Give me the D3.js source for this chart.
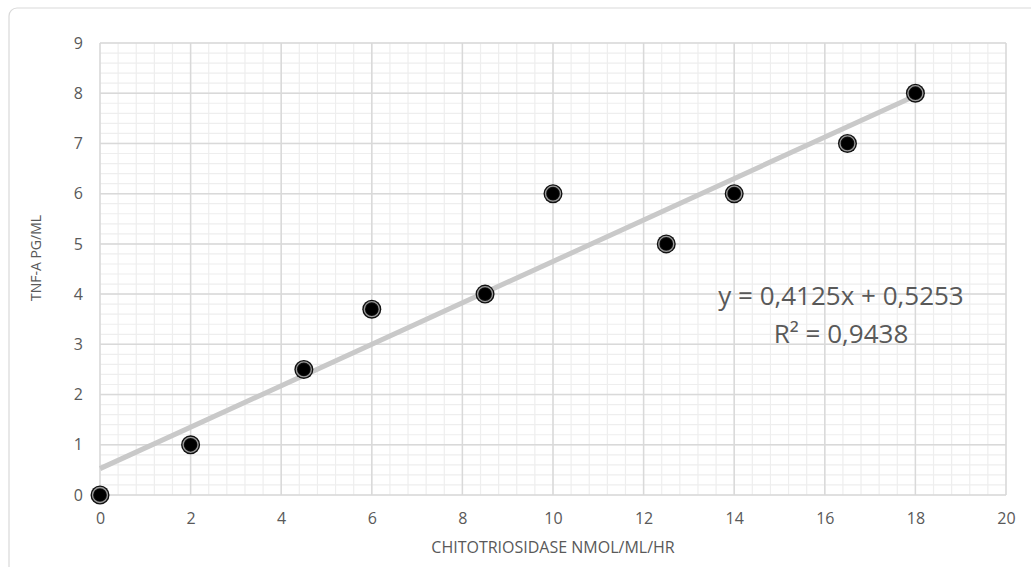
<!DOCTYPE html>
<html>
<head>
<meta charset="utf-8">
<script src="https://d3js.org/d3.v7.min.js"></script>
<style>
  body { margin: 0; background: #fff; }
  text { font-family: "Open Sans", "Liberation Sans", sans-serif; fill: #595959; }
</style>
</head>
<body>
<svg id="chart" width="1031" height="567"></svg>
<script>
// data
var chitoValues = [0, 2, 4.5, 6, 8.5, 10, 12.5, 14, 16.5, 18];
var tnfValues   = [0, 1, 2.5, 3.7, 4, 6, 5, 6, 7, 8];
var xTicks = [0, 2, 4, 6, 8, 10, 12, 14, 16, 18, 20];
var yTicks = [0, 1, 2, 3, 4, 5, 6, 7, 8, 9];
var trendSlope = 0.4125;
var trendIntercept = 0.5253;
var equationLines = ["y = 0,4125x + 0,5253", "R² = 0,9438"];

var svg = d3.select("#chart");

// chart frame
svg.append("rect")
    .attr("x", 9).attr("y", 8)
    .attr("width", 1030).attr("height", 580)
    .attr("rx", 8)
    .attr("fill", "#fff")
    .attr("stroke", "#d9d9d9")
    .attr("stroke-width", 1.2);

var x = d3.scaleLinear().domain([0, 20]).range([100, 1006]);
var y = d3.scaleLinear().domain([0, 9]).range([495, 43]);

// minor grid
var grid = svg.append("g");
grid.selectAll(".vminor")
    .data(d3.range(0, 20.001, 0.4))
    .enter().append("line")
        .attr("x1", function(d) { return x(d); })
        .attr("x2", function(d) { return x(d); })
        .attr("y1", y(0)).attr("y2", y(9))
        .attr("stroke", "#eeeeee").attr("stroke-width", 1.2);
grid.selectAll(".hminor")
    .data(d3.range(0, 9.001, 0.2))
    .enter().append("line")
        .attr("y1", function(d) { return y(d); })
        .attr("y2", function(d) { return y(d); })
        .attr("x1", x(0)).attr("x2", x(20))
        .attr("stroke", "#eeeeee").attr("stroke-width", 1.2);

// major grid
grid.selectAll(".vmajor")
    .data(xTicks)
    .enter().append("line")
        .attr("x1", function(d) { return x(d); })
        .attr("x2", function(d) { return x(d); })
        .attr("y1", y(0)).attr("y2", y(9))
        .attr("stroke", "#d9d9d9").attr("stroke-width", 1.5);
grid.selectAll(".hmajor")
    .data(yTicks)
    .enter().append("line")
        .attr("y1", function(d) { return y(d); })
        .attr("y2", function(d) { return y(d); })
        .attr("x1", x(0)).attr("x2", x(20))
        .attr("stroke", "#d9d9d9").attr("stroke-width", 1.5);

// axes (labels only)
var xAxis = svg.append("g")
    .attr("transform", "translate(0," + (y(0) + 13) + ")")
    .call(d3.axisBottom(x).tickValues(xTicks).tickSize(0).tickPadding(5));
xAxis.select(".domain").remove();
xAxis.selectAll("text")
    .style("font-size", "16px")
    .style("font-family", "'Open Sans', 'Liberation Sans', sans-serif")
    .attr("fill", "#595959");

var yAxis = svg.append("g")
    .attr("transform", "translate(" + (x(0) - 17) + ",0)")
    .call(d3.axisLeft(y).tickValues(yTicks).tickSize(0).tickPadding(0));
yAxis.select(".domain").remove();
yAxis.selectAll("text")
    .style("font-size", "16px")
    .style("font-family", "'Open Sans', 'Liberation Sans', sans-serif")
    .attr("fill", "#595959");

// trendline
svg.append("line")
    .attr("x1", x(0)).attr("y1", y(trendIntercept))
    .attr("x2", x(18)).attr("y2", y(trendSlope * 18 + trendIntercept))
    .attr("stroke", "#c9c9c9")
    .attr("stroke-width", 5);

// markers
var pts = svg.append("g").selectAll("g")
    .data(chitoValues.map(function(d, i) { return [d, tnfValues[i]]; }))
    .enter().append("g")
        .attr("transform", function(d) { return "translate(" + x(d[0]) + "," + y(d[1]) + ")"; });
pts.append("circle").attr("r", 9.5).attr("fill", "#111");
pts.append("circle").attr("r", 7.5).attr("fill", "none").attr("stroke", "#9a9a9a").attr("stroke-width", 1.3);
pts.append("circle").attr("r", 6).attr("fill", "#000");

// equation
svg.selectAll(".eq")
    .data(equationLines)
    .enter().append("text")
        .attr("x", 841)
        .attr("y", function(d, i) { return 305 + i * 38; })
        .attr("text-anchor", "middle")
        .style("font-size", "26px")
        .text(function(d) { return d; });

// axis titles
svg.append("text")
    .attr("x", 553).attr("y", 553)
    .attr("text-anchor", "middle")
    .style("font-size", "16px")
    .text("CHITOTRIOSIDASE NMOL/ML/HR");

svg.append("text")
    .attr("transform", "translate(41,258) rotate(-90)")
    .attr("text-anchor", "middle")
    .style("font-size", "14px")
    .text("TNF-A PG/ML");
</script>
</body>
</html>
